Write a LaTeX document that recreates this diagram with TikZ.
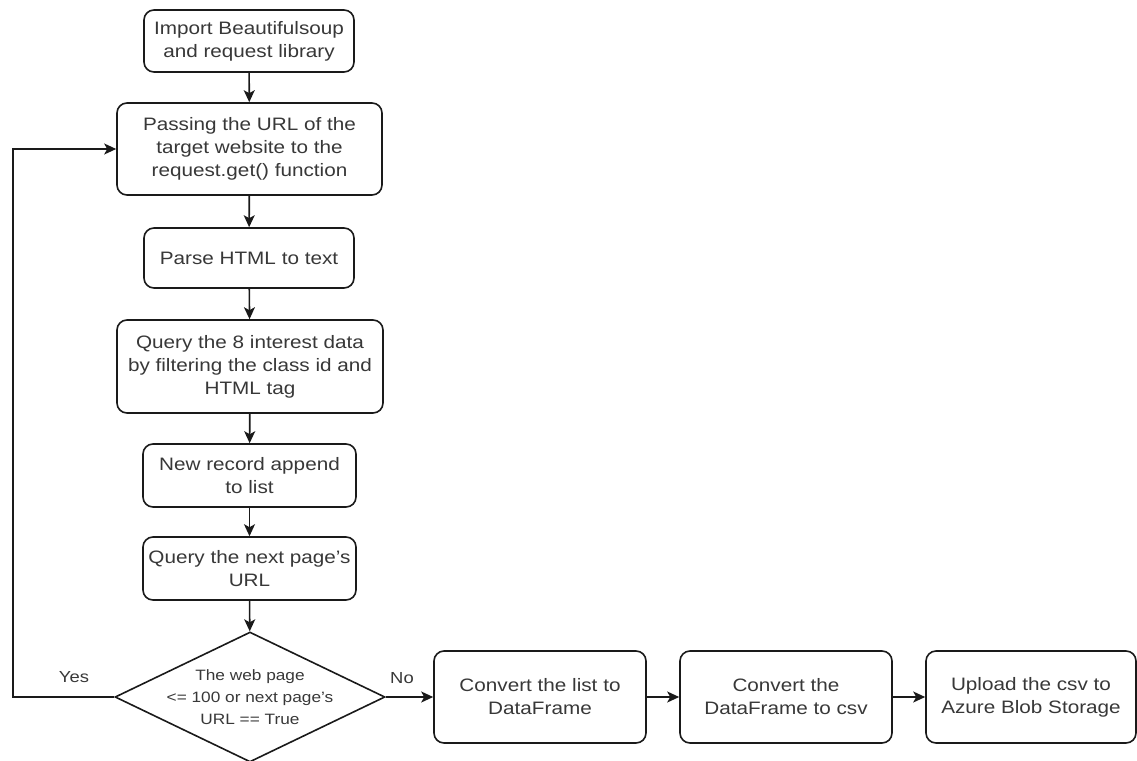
\documentclass[tikz,border=0pt]{standalone}
\usepackage{fontspec}
\setmainfont[FakeStretch=1.15]{Liberation Sans}
\usetikzlibrary{shapes.geometric,arrows.meta}
\definecolor{ink}{HTML}{1A1A1A}
\definecolor{txt}{HTML}{383838}
\newcommand{\apos}{{\char"27}}
\begin{document}
\begin{tikzpicture}[x=1pt,y=-1pt,
  stepbox/.style={draw=ink,line width=1.6pt,rounded corners=10pt,fill=white,
    text=txt,align=center,inner sep=2pt,
    font=\fontsize{18}{23}\selectfont},
  decision/.style={draw=ink,line width=1.6pt,shape=diamond,inner sep=0pt,fill=white},
  flow/.style={draw=ink,line width=1.6pt,-{Stealth[length=12pt,width=11pt,inset=3pt]}},
  tag/.style={text=txt,font=\fontsize{16}{20}\selectfont,inner sep=0pt}]
\useasboundingbox (0,0) rectangle (1137,760);

% main column
\node[stepbox,minimum width=210pt,minimum height=62pt] (imp) at (249,41)
  {Import Beautifulsoup\\and request library};
\node[stepbox,minimum width=265pt,minimum height=92pt] (pass) at (249.5,149)
  {Passing the URL of the\\target website to the\\request.get() function};
\node[stepbox,minimum width=210pt,minimum height=60pt] (parse) at (249,258)
  {Parse HTML to text};
\node[stepbox,minimum width=266pt,minimum height=93pt] (query) at (250,366.5)
  {Query the 8 interest data\\by filtering the class id and\\HTML tag};
\node[stepbox,minimum width=213pt,minimum height=63pt] (rec) at (249.5,475.5)
  {New record append\\to list};
\node[stepbox,minimum width=213pt,minimum height=63pt] (next) at (249.5,568.5)
  {Query the next page\apos s\\URL};

% decision
\node[decision,minimum width=270pt,minimum height=130pt] (dec) at (250,697) {};
\node[text=txt,align=center,inner sep=0pt,font=\fontsize{15}{22}\selectfont] (dectxt) at (dec.center)
  {The web page\\<= 100 or next page\apos s\\URL == True};

% output row
\node[stepbox,minimum width=212pt,minimum height=92pt] (conv) at (540,697)
  {Convert the list to\\DataFrame};
\node[stepbox,minimum width=212pt,minimum height=92pt] (csv) at (786,697)
  {Convert the\\DataFrame to csv};
\node[stepbox,minimum width=210pt,minimum height=92pt] (up) at (1031,697)
  {Upload the csv to\\Azure Blob Storage};

% connectors
\draw[flow] (imp) -- (pass);
\draw[flow] (pass) -- (parse);
\draw[flow] (parse) -- (query);
\draw[flow] (query) -- (rec);
\draw[flow] (rec) -- (next);
\draw[flow] (next) -- (dec);
\coordinate (loop) at (13,697);
\draw[flow] (dec.west) -- (loop) |- (pass.west);
\draw[flow] (dec.east) -- (conv.west);
\draw[flow] (conv) -- (csv);
\draw[flow] (csv) -- (up);

% branch labels
\node[tag] (yes) at (74,677) {Yes};
\node[tag] (no) at (402,678) {No};
\end{tikzpicture}
\end{document}
